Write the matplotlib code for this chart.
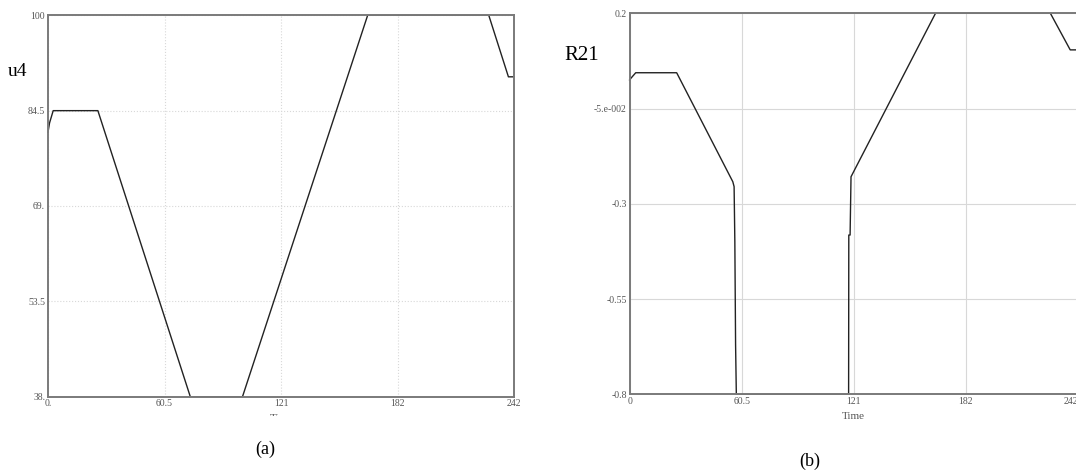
"""
Two simulation traces side by side: u4 and R21 against Time.
"""
import matplotlib
matplotlib.use('Agg')
import matplotlib.pyplot as plt
from matplotlib.patches import Rectangle

# panel (a): u4
a_time = [0, 0.8, 2.7, 25.9, 73.9, 101.0, 166.0, 228.9, 239.1, 242]
a_u4 = [81.0, 82.5, 84.5, 84.5, 38.0, 38.0, 100.0, 100.0, 90.0, 90.0]
a_yticks = [38, 53.5, 69, 84.5, 100]
a_ylabels = ['38.', '53.5', '69.', '84.5', '100']
a_xlabels = ['0.', '60.5', '121', '182', '242']

# panel (b): R21
b_time = [0, 0.8, 3.3, 25.4, 55.7, 56.4, 56.8, 57.2, 57.6,
          118.2, 118.3, 119.0, 119.5, 165.1, 227.1, 237.8, 242]
b_r21 = [0.025, 0.03, 0.044, 0.044, -0.242, -0.255, -0.40, -0.67, -0.8,
         -0.8, -0.382, -0.382, -0.229, 0.2, 0.2, 0.104, 0.104]
b_yticks = [-0.8, -0.55, -0.3, -0.05, 0.2]
b_ylabels = ['-0.8', '-0.55', '-0.3', '-5.e-002', '0.2']
b_xlabels = ['0', '60.5', '121', '182', '242']

xticks = [0, 60.5, 121, 181.5, 242]

W, H = 1076, 472
fig = plt.figure(figsize=(W / 100, H / 100), dpi=100)
fig.patch.set_facecolor('white')


def px_axes(left, top, right, bottom):
    # axes placed from pixel edges (y measured from the top)
    return fig.add_axes([left / W, 1 - bottom / H, (right - left) / W, (bottom - top) / H])


def style(ax, grid_ls):
    for s in ax.spines.values():
        s.set_color('#7a7a7a')
        s.set_linewidth(1.4)
    ax.tick_params(length=0, pad=2, labelsize=7, labelcolor='#555555')
    for lbl in ax.get_xticklabels() + ax.get_yticklabels():
        lbl.set_family('Liberation Serif')
    ax.grid(True, color='#d8d8d8', linestyle=grid_ls, linewidth=0.8)
    ax.set_axisbelow(True)


ax1 = px_axes(48, 15.3, 514, 396.7)
ax1.plot(a_time, a_u4, color='#222222', linewidth=1.0, clip_on=False)
ax1.set_xlim(0, 242)
ax1.set_ylim(38, 100)
ax1.set_xticks(xticks)
ax1.set_xticklabels(a_xlabels)
ax1.set_yticks(a_yticks)
ax1.set_yticklabels(a_ylabels)
ax1.set_xlabel('Time', fontsize=8, color='#555555', family='Liberation Serif', labelpad=4)
style(ax1, ':')

ax2 = px_axes(629.6, 13.3, 1078, 394.3)
ax2.plot(b_time, b_r21, color='#222222', linewidth=1.0, clip_on=False)
ax2.set_xlim(0, 242)
ax2.set_ylim(-0.8, 0.2)
ax2.set_xticks(xticks)
ax2.set_xticklabels(b_xlabels)
ax2.set_yticks(b_yticks)
ax2.set_yticklabels(b_ylabels)
ax2.set_xlabel('Time', fontsize=8, color='#555555', family='Liberation Serif', labelpad=4)
style(ax2, '-')
ax2.get_xticklabels()[-1].set_horizontalalignment('right')

# variable names and captions
fig.text(18 / W, 1 - 72 / H, 'u4', fontsize=14, family='Liberation Serif',
         ha='center', va='center')
fig.text(582 / W, 1 - 56 / H, 'R21', fontsize=15, family='Liberation Serif',
         ha='center', va='center')
fig.text(265 / W, 1 - 449 / H, '(a)', fontsize=13, family='Liberation Serif',
         ha='center', va='center', zorder=5)
fig.text(810 / W, 1 - 461 / H, '(b)', fontsize=13, family='Liberation Serif',
         ha='center', va='center', zorder=5)

# the left "Time" label is mostly hidden in the original
fig.add_artist(Rectangle((200 / W, 1 - 436 / H), 130 / W, 20.5 / H,
                         transform=fig.transFigure, facecolor='white',
                         edgecolor='none', zorder=4))

fig.savefig('out.png', dpi=100)
